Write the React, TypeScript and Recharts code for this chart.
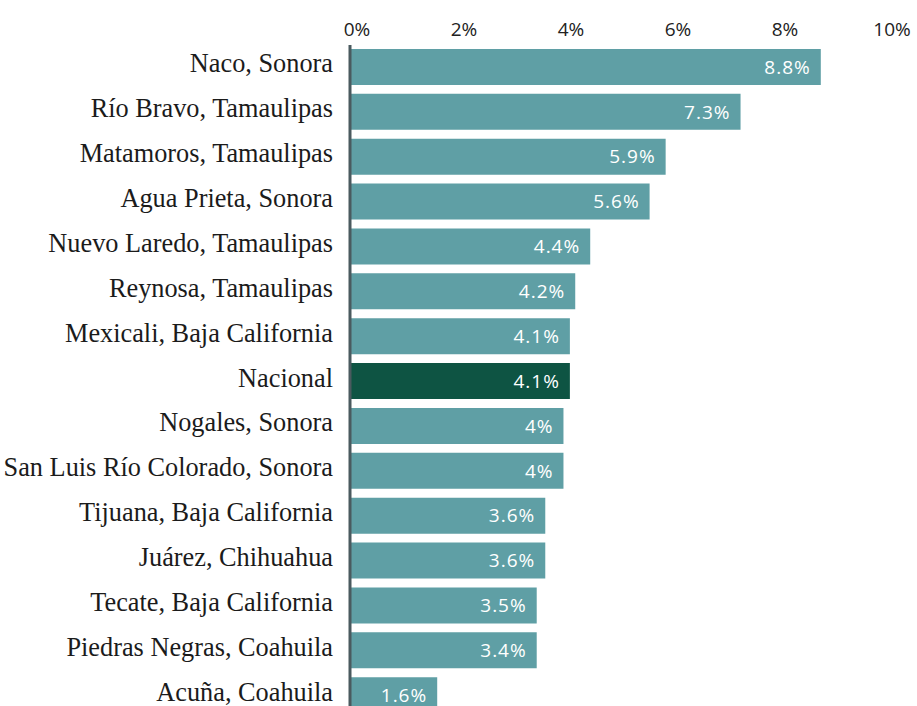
import { Bar, BarChart, Cell, LabelList, XAxis, YAxis } from "recharts";

const cities = [
  "Naco, Sonora",
  "Río Bravo, Tamaulipas",
  "Matamoros, Tamaulipas",
  "Agua Prieta, Sonora",
  "Nuevo Laredo, Tamaulipas",
  "Reynosa, Tamaulipas",
  "Mexicali, Baja California",
  "Nacional",
  "Nogales, Sonora",
  "San Luis Río Colorado, Sonora",
  "Tijuana, Baja California",
  "Juárez, Chihuahua",
  "Tecate, Baja California",
  "Piedras Negras, Coahuila",
  "Acuña, Coahuila",
];

const rates = [8.8, 7.3, 5.9, 5.6, 4.49, 4.21, 4.11, 4.11, 3.99, 3.99, 3.65, 3.65, 3.49, 3.49, 1.63];

const rateLabels = ["8.8%", "7.3%", "5.9%", "5.6%", "4.4%", "4.2%", "4.1%", "4.1%", "4%", "4%", "3.6%", "3.6%", "3.5%", "3.4%", "1.6%"];

const xTicks = [0, 2, 4, 6, 8, 10];

const data = cities.map((city, i) => ({ city, rate: rates[i], label: rateLabels[i] }));

const CityTick = ({ x, y, payload }: any) => (
  <text x={x} y={y} dy={5} textAnchor="end" fontFamily="'Liberation Serif', serif" fontSize={26.3} fill="#1b1b1b">
    {payload.value}
  </text>
);

const PctTick = ({ x, y, payload }: any) => (
  <text x={x + 7} y={y + 1} textAnchor="middle" fontFamily="'Open Sans', sans-serif" fontSize={19} fill="#222">
    {payload.value}%
  </text>
);

export default function App() {
  return (
    <div style={{ position: "fixed", left: 0, top: 0, width: 917, height: 706, overflow: "hidden", background: "#fff" }}>
      <BarChart
        width={917}
        height={725}
        data={data}
        layout="vertical"
        margin={{ top: 0, right: 32, bottom: 7, left: 0 }}
      >
        <XAxis
          type="number"
          orientation="top"
          domain={[0, 10]}
          ticks={xTicks}
          height={45}
          axisLine={false}
          tickLine={false}
          tickSize={0}
          tickMargin={10}
          tick={<PctTick />}
        />
        <YAxis
          type="category"
          dataKey="city"
          width={350}
          tickLine={false}
          tickSize={0}
          tickMargin={17}
          axisLine={{ stroke: "#4a5a5f", strokeWidth: 3 }}
          tick={<CityTick />}
          interval={0}
        />
        <Bar dataKey="rate" barSize={36} isAnimationActive={false}>
          {data.map((d) => (
            <Cell key={d.city} fill={d.city === "Nacional" ? "#0e5443" : "#5f9fa5"} />
          ))}
          <LabelList
            dataKey="label"
            position="insideRight"
            offset={10}
            fill="#ffffff"
            fontFamily="'Open Sans', sans-serif"
            fontSize={19}
            letterSpacing={1}
          />
        </Bar>
      </BarChart>
    </div>
  );
}
